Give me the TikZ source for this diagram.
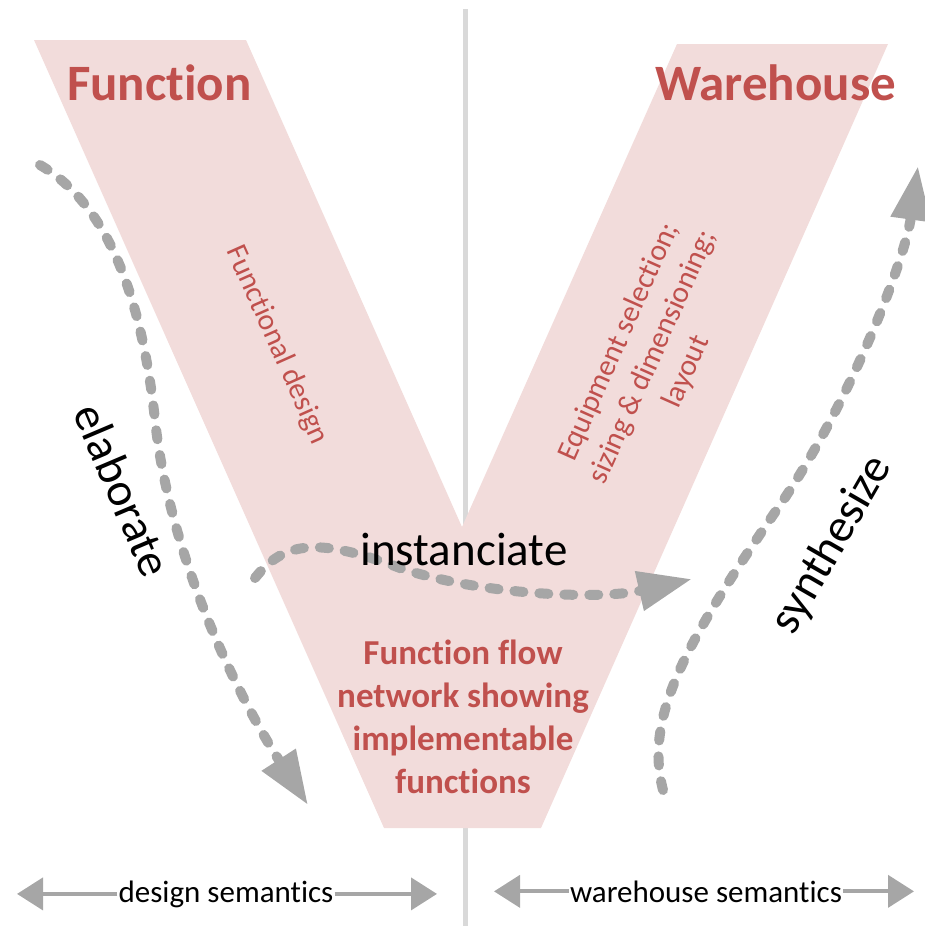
\documentclass[tikz,border=0pt]{standalone}
\usepackage{fontspec}
\setmainfont{Carlito}[RawFeature={-liga;-dlig;-clig;-calt}]
\usetikzlibrary{arrows.meta}
\definecolor{vpink}{HTML}{F2DCDB}
\definecolor{vred}{HTML}{C0504D}
\definecolor{agray}{HTML}{A6A6A6}
\definecolor{lgray}{HTML}{D9D9D9}
\begin{document}
\begin{tikzpicture}[x=1pt,y=-1pt,
 flowarrow/.style={agray, line width=10pt, line cap=round, dash pattern=on 9pt off 16pt, -{Triangle[length=54pt,width=38pt]}},
 semarrow/.style={agray, line width=4pt, -{Triangle[length=26pt,width=32pt]}},
 titletext/.style={text=vred, font=\fontsize{51}{61}\selectfont\bfseries, inner sep=0pt},
 phasetext/.style={text=vred, font=\fontsize{30}{37}\selectfont, align=center, inner sep=0pt},
 flowtext/.style={text=vred, font=\fontsize{35}{43}\selectfont\bfseries, align=center, inner sep=0pt},
 verbtext/.style={text=black, font=\fontsize{47}{57}\selectfont, inner sep=0pt},
 semtext/.style={text=black, font=\fontsize{31}{38}\selectfont, inner xsep=1pt, inner ysep=0pt}
]
\useasboundingbox (0,0) rectangle (924,926);
% divider
\coordinate (divtop) at (465,9);
\coordinate (divbot) at (465,926);
\draw[lgray, line width=5pt] (divtop) -- (divbot);
% V shape
\fill[vpink] (34,40) -- (246,40) -- (462,527) -- (677,44) -- (888,44) -- (541,828) -- (384,828) -- cycle;
% dashed flow arrows
\coordinate (e0) at (40,165);
\coordinate (e1) at (155,420);
\coordinate (e2) at (308,805);
\draw[flowarrow] (e0) .. controls (100,200) and (140,280) .. (e1) .. controls (170,560) and (240,700) .. (e2);
\coordinate (i0) at (255,578);
\coordinate (i1) at (400,568);
\coordinate (i2) at (692,579);
\draw[flowarrow] (i0) .. controls (285,540) and (320,538) .. (i1) .. controls (480,595) and (600,600) .. (i2);
\coordinate (s0) at (663,790);
\coordinate (s1) at (780,505);
\coordinate (s2) at (918,166);
\draw[flowarrow] (s0) .. controls (645,720) and (680,650) .. (s1) .. controls (850,403) and (905,260) .. (s2);
% titles
\node[titletext, anchor=base west] (fun) at (67,100) {Function};
\node[titletext, anchor=base west] (wh) at (655,100) {Warehouse};
% phase texts
\node[phasetext, rotate=-66] (fd) at (277,345) {Functional design};
\node[phasetext, rotate=66] (eq) at (653,357) {Equipment selection;\\sizing \& dimensioning;\\layout};
\node[flowtext] (ffn) at (463,717) {Function flow\\network showing\\implementable\\functions};
% verbs
\node[verbtext, rotate=-67] (elab) at (123,490) {elaborate};
\node[verbtext, anchor=base] (inst) at (464,565) {instanciate};
\node[verbtext, rotate=60] (synth) at (832,545) {synthesize};
% semantics
\node[semtext, anchor=base] (dsem) at (226,902) {design semantics};
\coordinate (dl) at (17,893);
\coordinate (dr) at (437,893);
\draw[semarrow] (dsem.west) -- (dsem.west -| dl);
\draw[semarrow] (dsem.east) -- (dsem.east -| dr);
\node[semtext, anchor=base] (wsem) at (706,902) {warehouse semantics};
\coordinate (wl) at (494,893);
\coordinate (wr) at (914,893);
\draw[semarrow] (wsem.west) -- (wsem.west -| wl);
\draw[semarrow] (wsem.east) -- (wsem.east -| wr);
\end{tikzpicture}
\end{document}
